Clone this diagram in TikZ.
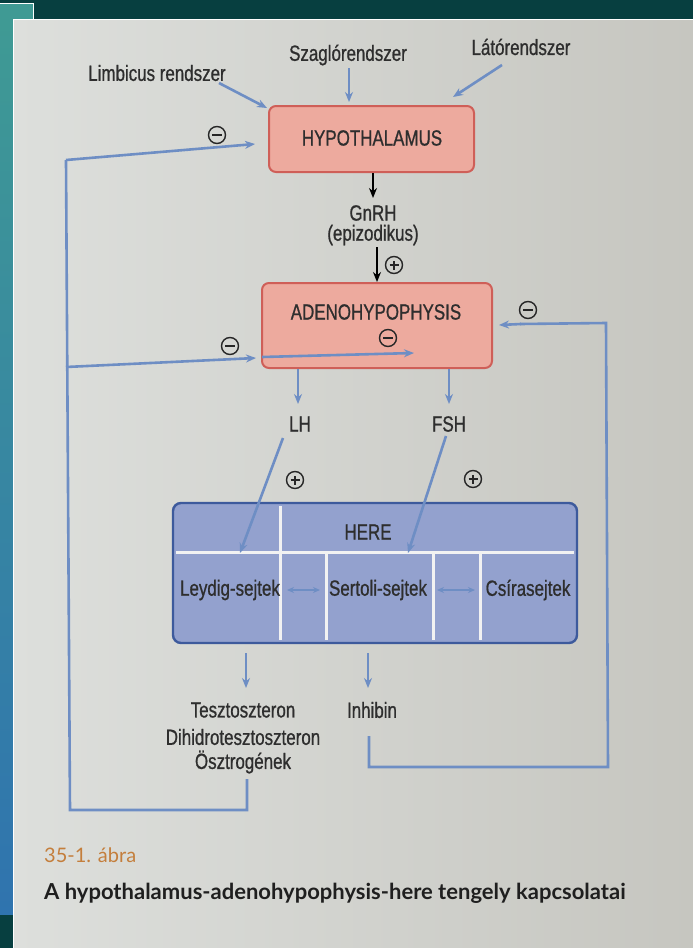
\documentclass[tikz,border=0pt]{standalone}
\usepackage{fontspec}
\setmainfont{Liberation Sans}[FakeStretch=0.77,FakeBold=0.8]
\newfontfamily\capfont{Lato}
\usetikzlibrary{arrows.meta}
\definecolor{arrowblue}{HTML}{6E8EC4}
\definecolor{redborder}{HTML}{CF5F58}
\definecolor{redfill}{HTML}{EDAA9E}
\definecolor{bluefill}{HTML}{93A1CE}
\definecolor{blueborder}{HTML}{3D5A9C}
\definecolor{darkteal}{HTML}{073F40}
\definecolor{stripteal}{HTML}{3F9A94}
\definecolor{pageL}{HTML}{DDDFDC}
\definecolor{pageR}{HTML}{C6C6C0}
\definecolor{capor}{HTML}{C47E3C}
\tikzset{
 lbl/.style={font=\fontsize{22}{24}\selectfont, inner sep=0pt, text=black!82},
 barrow/.style={draw=arrowblue, line width=2.6pt, -{Stealth[length=10pt,width=8pt]}},
 bline/.style={draw=arrowblue, line width=2.6pt},
 karrow/.style={draw=black, line width=2pt, -{Stealth[length=10pt,width=8pt]}},
 redbox/.style={draw=redborder, fill=redfill, line width=2pt, rounded corners=7pt},
 whiteline/.style={draw=white!95!black, line width=3pt},
 dbl/.style={draw=arrowblue, line width=1.8pt, {Stealth[length=7pt,width=6pt]}-{Stealth[length=7pt,width=6pt]}},
 sign/.style={circle, draw=black!85, line width=1.4pt, minimum size=17pt, inner sep=0pt},
 signplus/.style={sign, path picture={
   \draw[line width=1.4pt] ([xshift=-4.5pt]path picture bounding box.center) -- ([xshift=4.5pt]path picture bounding box.center);
   \draw[line width=1.4pt] ([yshift=-4.5pt]path picture bounding box.center) -- ([yshift=4.5pt]path picture bounding box.center);}},
 signminus/.style={sign, path picture={
   \draw[line width=1.8pt] ([xshift=-5pt]path picture bounding box.center) -- ([xshift=5pt]path picture bounding box.center);}},
}
\begin{document}
\begin{tikzpicture}[x=1pt,y=-1pt]
\useasboundingbox (0,0) rectangle (693,948);
% photo surroundings
\fill[darkteal] (0,0) rectangle (693,19);
\fill[stripteal] (0,3) rectangle (33,19);
\draw[white, line width=1pt] (0,3) -- (33,3) -- (33,19);
\shade[top color=stripteal, bottom color=stripteal!75!blue] (0,19) rectangle (13,915);
\fill[darkteal] (0,915) rectangle (13,948);
\shade[left color=pageL, right color=pageR] (13,19) rectangle (693,948);
\draw[white, line width=1pt] (13,948) -- (13,19) -- (693,19);

% top inputs
\node[lbl] (limb) at (157,73) {Limbicus rendszer};
\node[lbl] (szag) at (348,55) {Szaglórendszer};
\node[lbl] (lato) at (521,47) {Látórendszer};

% hypothalamus
\node[redbox, minimum width=205pt, minimum height=66pt] (hyp) at (371.5,139) {};
\node[lbl] (hyptxt) at (372,138) {HYPOTHALAMUS};

\coordinate (limbA) at (219,83);
\coordinate (limbB) at (267,108);
\coordinate (szagA) at (349,68);
\coordinate (szagB) at (349,102);
\coordinate (latoA) at (502,65);
\coordinate (latoB) at (453,97);
\draw[barrow] (limbA) -- (limbB);
\draw[barrow] (szagA) -- (szagB);
\draw[barrow] (latoA) -- (latoB);

% GnRH
\node[lbl] (gnrh) at (373,213) {GnRH};
\node[lbl] (epi) at (373,235) {(epizodikus)};
\coordinate (gnrhtop) at (373,198);
\draw[karrow] (hyp.south -| gnrhtop) -- (gnrhtop);
\coordinate (episub) at (377,247);
\node[signplus] (p1) at (394,265) {};

% adenohypophysis
\node[redbox, minimum width=230pt, minimum height=85pt] (adeno) at (377,325.5) {};
\node[lbl] (adenotxt) at (376,312) {ADENOHYPOPHYSIS};
\draw[karrow] (episub) -- (adeno.north -| episub);
\node[signminus] (m3) at (388,338) {};

% LH / FSH
\node[lbl] (lh) at (300,424) {LH};
\node[lbl] (fsh) at (449,424) {FSH};
\draw[barrow] (adeno.south -| 298,0) -- (298,404);
\draw[barrow] (adeno.south -| 449,0) -- (449,404);
\node[signplus] (p2) at (295,480) {};
\node[signplus] (p3) at (473,479) {};

% HERE box
\node[draw=blueborder, fill=bluefill, line width=2.4pt, rounded corners=8pt,
      minimum width=404pt, minimum height=140pt] (here) at (375,573) {};
\draw[whiteline] (176,552) -- (574,552);
\draw[whiteline] (280,506) -- (280,640);
\draw[whiteline] (326,552) -- (326,640);
\draw[whiteline] (433,552) -- (433,640);
\draw[whiteline] (480,552) -- (480,640);
\node[lbl] (heretxt) at (368,532) {HERE};
\node[lbl] (leydig) at (230,590) {Leydig-sejtek};
\node[lbl] (sertoli) at (378,590) {Sertoli-sejtek};
\node[lbl] (csira) at (528,590) {Csírasejtek};
\draw[dbl] (287,590) -- (320,590);
\draw[dbl] (437,590) -- (475,590);

\coordinate (leyin) at (240,553);
\coordinate (serin) at (408,553);
\coordinate (lhfoot) at (283,438);
\coordinate (fshfoot) at (446,436);
\draw[barrow] (lhfoot) -- (leyin);
\draw[barrow] (fshfoot) -- (serin);

% products
\node[lbl] (teszt) at (243,710) {Tesztoszteron};
\node[lbl] (dht) at (243,737) {Dihidrotesztoszteron};
\node[lbl] (osz) at (243,762) {Ösztrogének};
\node[lbl] (inh) at (372,710) {Inhibin};
\draw[barrow] (246,653) -- (246,688);
\draw[barrow] (368,653) -- (368,688);

% feedback loops
\coordinate (fbA) at (247,779);
\coordinate (fbB) at (247,810);
\coordinate (fbC) at (70,810);
\coordinate (fbD) at (66,160);
\coordinate (fbE) at (66,367);
\draw[bline, line join=miter] (fbA) -- (fbB) -- (fbC) -- (fbD);
\draw[barrow] (fbD) -- ([xshift=-13pt]hyp.west |- 0,144);
\draw[barrow] (fbE) -- ([xshift=-5pt]adeno.west |- 0,358);
\draw[barrow] ([xshift=1pt]adeno.west |- 0,357) -- (414,353);
\node[signminus] (m1) at (217,135) {};
\node[signminus] (m2) at (230,346) {};

\coordinate (rA) at (369,736);
\coordinate (rB) at (369,767);
\coordinate (rC) at (608,767);
\coordinate (rD) at (606,323);
\draw[bline, line join=miter] (rA) -- (rB) -- (rC) -- (rD) -- (520,324);
\draw[barrow] (521,324) -- ([xshift=6pt]adeno.east |- 0,325);
\node[signminus] (m4) at (528,310) {};

% caption
\node[anchor=west, inner sep=0pt, text=capor, font=\capfont\fontsize{20}{22}\selectfont] (cap1) at (44,855) {35-1. ábra};
\node[anchor=west, inner sep=0pt, text=black!88, font=\capfont\bfseries\fontsize{22}{24}\selectfont] (cap2) at (44,893) {A hypothalamus-adenohypophysis-here tengely kapcsolatai};
\end{tikzpicture}
\end{document}
